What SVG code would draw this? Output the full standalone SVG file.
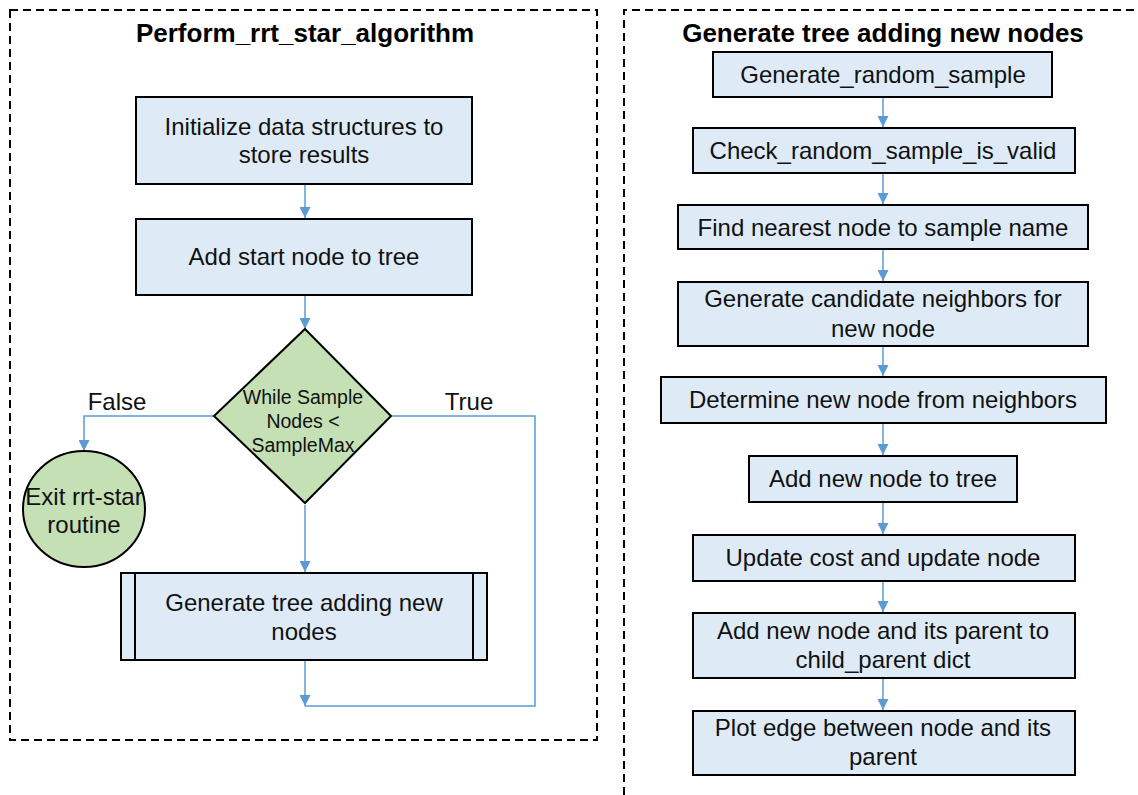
<svg xmlns="http://www.w3.org/2000/svg" width="1138" height="795" viewBox="0 0 1138 795">
<style>
.bg{fill:#ffffff}
.frame{fill:none;stroke:#000;stroke-width:2;stroke-dasharray:8,5}
.box{fill:#deebf7;stroke:#000;stroke-width:2}
.green{fill:#c5e0b4;stroke:#000;stroke-width:2}
.conn{fill:none;stroke:#5b9bd5;stroke-width:1.5}
.t{font-family:"Liberation Sans",Arial,sans-serif;font-size:24px;fill:#111;text-anchor:middle}
.s{font-family:"Liberation Sans",Arial,sans-serif;font-size:19.5px;fill:#111;text-anchor:middle}
.title{font-family:"Liberation Sans",Arial,sans-serif;font-size:26px;font-weight:bold;fill:#000;text-anchor:middle}
</style>
<defs>
<marker id="arr" viewBox="0 0 10 10" refX="10" refY="5" markerWidth="11" markerHeight="11" markerUnits="userSpaceOnUse" orient="auto">
<path d="M0,0 L10,5 L0,10 z" fill="#5b9bd5"/>
</marker>
</defs>
<rect class="bg" x="0" y="0" width="1138" height="795"/>
<g id="frames">
<rect class="frame" x="10" y="10" width="587" height="730"/>
<path class="frame" d="M624,795 L624,10 L1140,10"/>
<text class="title" x="305" y="42">Perform_rrt_star_algorithm</text>
<text class="title" x="883" y="42">Generate tree adding new nodes</text>
</g>
<g id="connectors">
<line class="conn" x1="305" y1="184" x2="305" y2="218" marker-end="url(#arr)"/>
<line class="conn" x1="305" y1="295" x2="305" y2="329" marker-end="url(#arr)"/>
<polyline class="conn" points="214,416 84,416 84,451" marker-end="url(#arr)"/>
<line class="conn" x1="305" y1="505" x2="305" y2="572" marker-end="url(#arr)"/>
<line class="conn" x1="305" y1="660" x2="305" y2="706" marker-end="url(#arr)"/>
<polyline class="conn" points="391,416 535,416 535,706 305,706"/>
<line class="conn" x1="883" y1="97" x2="883" y2="127" marker-end="url(#arr)"/>
<line class="conn" x1="883" y1="173" x2="883" y2="204" marker-end="url(#arr)"/>
<line class="conn" x1="883" y1="249" x2="883" y2="281" marker-end="url(#arr)"/>
<line class="conn" x1="883" y1="346" x2="883" y2="376" marker-end="url(#arr)"/>
<line class="conn" x1="883" y1="423" x2="883" y2="455" marker-end="url(#arr)"/>
<line class="conn" x1="883" y1="502" x2="883" y2="534" marker-end="url(#arr)"/>
<line class="conn" x1="883" y1="581" x2="883" y2="612" marker-end="url(#arr)"/>
<line class="conn" x1="883" y1="678" x2="883" y2="710" marker-end="url(#arr)"/>
<text class="t" x="117" y="410">False</text>
<text class="t" x="469" y="410">True</text>
</g>
<g id="init">
<rect class="box" x="136" y="97" width="336" height="87"/>
<text class="t" x="304" y="135">Initialize data structures to</text>
<text class="t" x="304" y="163">store results</text>
</g>
<g id="addstart">
<rect class="box" x="136" y="219" width="336" height="76"/>
<text class="t" x="304" y="265">Add start node to tree</text>
</g>
<g id="decision">
<polygon class="green" points="305,329 391,416 305,503 214,416"/>
<text class="s" x="303" y="404">While Sample</text>
<text class="s" x="303" y="428">Nodes &lt;</text>
<text class="s" x="303" y="452">SampleMax</text>
</g>
<g id="exit">
<ellipse class="green" cx="84" cy="509" rx="61" ry="58"/>
<text class="t" x="84" y="505">Exit rrt-star</text>
<text class="t" x="84" y="533">routine</text>
</g>
<g id="subprocess">
<rect class="box" x="121" y="573" width="366" height="87"/>
<line x1="135" y1="573" x2="135" y2="660" stroke="#000" stroke-width="2"/>
<line x1="473" y1="573" x2="473" y2="660" stroke="#000" stroke-width="2"/>
<text class="t" x="304" y="611">Generate tree adding new</text>
<text class="t" x="304" y="640">nodes</text>
</g>
<g id="n1">
<rect class="box" x="713" y="52" width="339" height="45"/>
<text class="t" x="883" y="83">Generate_random_sample</text>
</g>
<g id="n2">
<rect class="box" x="693" y="128" width="382" height="45"/>
<text class="t" x="883" y="159">Check_random_sample_is_valid</text>
</g>
<g id="n3">
<rect class="box" x="678" y="205" width="410" height="44"/>
<text class="t" x="883" y="236">Find nearest node to sample name</text>
</g>
<g id="n4">
<rect class="box" x="678" y="282" width="410" height="64"/>
<text class="t" x="883" y="307">Generate candidate neighbors for</text>
<text class="t" x="883" y="337">new node</text>
</g>
<g id="n5">
<rect class="box" x="661" y="377" width="445" height="46"/>
<text class="t" x="883" y="408">Determine new node from neighbors</text>
</g>
<g id="n6">
<rect class="box" x="749" y="456" width="268" height="46"/>
<text class="t" x="883" y="487">Add new node to tree</text>
</g>
<g id="n7">
<rect class="box" x="693" y="535" width="382" height="46"/>
<text class="t" x="883" y="566">Update cost and update node</text>
</g>
<g id="n8">
<rect class="box" x="693" y="613" width="382" height="65"/>
<text class="t" x="883" y="639">Add new node and its parent to</text>
<text class="t" x="883" y="668">child_parent dict</text>
</g>
<g id="n9">
<rect class="box" x="693" y="711" width="382" height="64"/>
<text class="t" x="883" y="736">Plot edge between node and its</text>
<text class="t" x="883" y="765">parent</text>
</g>
</svg>
